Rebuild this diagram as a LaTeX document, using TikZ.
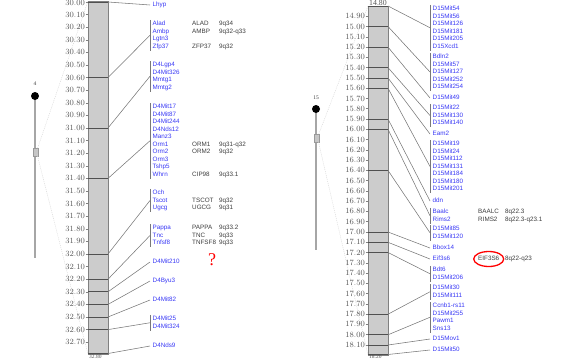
\documentclass[tikz,border=0pt]{standalone}
\usepackage{fontspec}
\setmainfont{Liberation Serif}
\newfontfamily\locifont{Liberation Sans}
\usetikzlibrary{calc}

\definecolor{lociblue}{RGB}{55,55,245}
\definecolor{symgray}{RGB}{60,60,60}
\definecolor{cmgray}{RGB}{85,85,85}
\definecolor{barfill}{RGB}{204,204,204}
\definecolor{barline}{RGB}{128,128,128}
\definecolor{bandline}{RGB}{80,80,80}
\definecolor{linkgray}{RGB}{120,120,120}

\tikzset{
  locus/.style={font=\locifont\fontsize{6.3}{7}\selectfont, text=lociblue, anchor=west,
    inner xsep=0pt, inner ysep=1pt, text height=4.6pt, text depth=1.2pt},
  human/.style={font=\locifont\fontsize{6.3}{7}\selectfont, text=symgray, anchor=west,
    inner xsep=0pt, inner ysep=1pt, text height=4.6pt, text depth=1.2pt},
  cmlabel/.style={font=\fontsize{7.8}{8}\selectfont, text=cmgray, anchor=east, inner sep=0pt},
  cmend/.style={font=\fontsize{5.5}{6}\selectfont, text=cmgray, anchor=base west, inner sep=0pt},
  chrno/.style={font=\fontsize{5.5}{6}\selectfont, text=symgray, inner sep=0pt},
  cmtick/.style={draw=barline, line width=0.5pt},
  chrbar/.style={fill=barfill, draw=barline, line width=0.8pt},
  band/.style={draw=bandline, line width=0.8pt},
  link/.style={draw=linkgray, line width=0.55pt},
  bracket/.style={draw=linkgray, line width=0.7pt},
  ideo/.style={draw=gray!70, line width=1.2pt},
  ideobox/.style={fill=gray!45, draw=gray!80, line width=0.4pt},
  ghost/.style={draw=gray!35, line width=0.4pt, dash pattern=on 1pt off 1pt},
  circled/.style={draw=red, line width=1.3pt},
}

\begin{document}
\begin{tikzpicture}[x=1pt,y=-1pt]
  \useasboundingbox (0,0) rectangle (572,359);

  % overview of chromosome 4
  \node[chrno] (chr4) at (35,84) {4};
  \draw[ideo] (35,96) -- (35,258);
  \fill (35,96) circle (4pt);
  \draw[ideobox] (33,148) rectangle (38,156);
  \coordinate (sel4a) at (37,150);
  \coordinate (sel4b) at (37,154);

  % overview of chromosome 15
  \node[chrno] (chr15) at (316,98) {15};
  \draw[ideo] (316,109) -- (316,250);
  \fill (316,109) circle (4pt);
  \draw[ideobox] (314,134) rectangle (319,142);
  \coordinate (sel15a) at (318,136);
  \coordinate (sel15b) at (318,140);

  % map bars
  \draw[chrbar] (88,1) rectangle (108,354);
  \draw[chrbar] (368,6) rectangle (388,355);
  \draw[ghost] (sel4a) -- (88,1);
  \draw[ghost] (sel4b) -- (88,354);
  \draw[ghost] (sel15a) -- (368,6);
  \draw[ghost] (sel15b) -- (368,355);

  % cM scales
  \foreach \i in {0,...,27} {
    \pgfmathsetmacro\cmval{30+0.1*\i}
    \pgfmathsetmacro\ypos{2+12.6*\i}
    \pgfmathsetmacro\ylab{max(\ypos,3.4)}
    \node[cmlabel] (cmL\i) at (85,\ylab) {\pgfmathprintnumber[fixed,fixed zerofill,precision=2]{\cmval}};
    \draw[cmtick] (85.5,\ypos) -- (88,\ypos);
  }
  \foreach \i in {1,...,33} {
    \pgfmathsetmacro\cmval{14.8+0.1*\i}
    \pgfmathsetmacro\ypos{6+10.27*\i}
    \node[cmlabel] (cmR\i) at (365,\ypos) {\pgfmathprintnumber[fixed,fixed zerofill,precision=2]{\cmval}};
    \draw[cmtick] (365.5,\ypos) -- (368,\ypos);
  }
  \node[cmend] (endL) at (89,358.4) {32.80};
  \node[cmlabel, anchor=south west] (topR) at (369,5.5) {14.80};
  \node[cmend] (endR) at (369,358.4) {18.20};

  % marker positions on the bars
  \foreach \k/\yy in {1/2,2/77.6,3/128,4/178.4,5/254,6/279.2,7/291.8,8/304.4,9/317,10/329.6,11/353.5}
    \draw[band] (88,\yy) -- (108,\yy) coordinate (mL\k);
  \foreach \k/\yy in {1/6,2/26.5,3/47.1,4/67.6,5/77.9,6/88.2,7/119,8/129.3,9/170.4,10/232,11/242.3,12/252.5,13/314.2,14/334.8,15/345,16/354.5}
    \draw[band] (368,\yy) -- (388,\yy) coordinate (mR\k);

  % loci, chromosome 4
  \foreach \nm/\yy/\txt in {lhyp/5/Lhyp,
      alad/24/Alad, ambp/31.5/Ambp, lgtn/39/Lgtn3, zfp/46.5/Zfp37,
      dlgp/65/D4Lgp4, dm326/72.5/D4Mit326, mmtga/80/Mmtg1, mmtgb/87.5/Mmtg2,
      dm17/107/D4Mit17, dm87/114.5/D4Mit87, dm244/122/D4Mit244, dnds12/129.5/D4Nds12,
      manz/137/Manz3, orma/144.5/Orm1, ormb/152/Orm2, ormc/159.5/Orm3, tshp/167/Tshp5,
      whrn/174.5/Whrn,
      och/193/Och, tscot/200.5/Tscot, ugcg/208/Ugcg,
      pappa/228/Pappa, tnc/235.5/Tnc, tnfsf/243/Tnfsf8,
      dm210/262/D4Mit210, dbyu/281/D4Byu3, dm82/300/D4Mit82,
      dm25/319/D4Mit25, dm324/326.5/D4Mit324,
      dnds9/346/D4Nds9}
    \node[locus] (\nm) at (152.5,\yy) {\txt};

  % loci, chromosome 15
  \foreach \nm/\yy/\txt in {r54/9/D15Mit54, r56/16.5/D15Mit56, r126/24/D15Mit126,
      r181/31.5/D15Mit181, r205/39/D15Mit205, rxcd/46.5/D15Xcd1,
      bdln/57/Bdln2, r57/64.5/D15Mit57, r127/72/D15Mit127, r252/79.5/D15Mit252, r254/87/D15Mit254,
      r49/98/D15Mit49,
      r22/108/D15Mit22, r130/115.5/D15Mit130, r140/123/D15Mit140,
      eam/134/Eam2,
      r19/144/D15Mit19, r24/151.5/D15Mit24, r112/159/D15Mit112, r131/166.5/D15Mit131,
      r184/174/D15Mit184, r180/181.5/D15Mit180, r201/189/D15Mit201,
      ddn/201/ddn,
      baalc/212/Baalc, rims/219.5/Rims2,
      r85/229/D15Mit85, r120/236.5/D15Mit120,
      bbox/248/Bbox14,
      eif/259/Eif3s6,
      bdt/270/Bdt6, r206/277.5/D15Mit206,
      r30/288/D15Mit30, r111/295.5/D15Mit111,
      ccnb/306/Ccnb1-rs11, r255/313.5/D15Mit255, pawm/321/Pawm1, sns/328.5/Sns13,
      rmov/339/D15Mov1,
      r50/350/D15Mit50}
    \node[locus] (\nm) at (432.5,\yy) {\txt};

  % human orthologues
  \coordinate (symL) at (192,0);
  \coordinate (bandL) at (219,0);
  \coordinate (symR) at (478,0);
  \coordinate (bandR) at (505,0);
  \foreach \nm/\sym/\cyto in {alad/ALAD/9q34, ambp/AMBP/9q32-q33, zfp/ZFP37/9q32,
      orma/ORM1/9q31-q32, ormb/ORM2/9q32, whrn/CIP98/9q33.1,
      tscot/TSCOT/9q32, ugcg/UGCG/9q31,
      pappa/PAPPA/9q33.2, tnc/TNC/9q33, tnfsf/TNFSF8/9q33} {
    \node[human] (\nm-s) at (\nm.west -| symL) {\sym};
    \node[human] (\nm-b) at (\nm.west -| bandL) {\cyto};
  }
  \foreach \nm/\sym/\cyto in {baalc/BAALC/8q22.3, rims/RIMS2/8q22.3-q23.1, eif/EIF3S6/8q22-q23} {
    \node[human] (\nm-s) at (\nm.west -| symR) {\sym};
    \node[human] (\nm-b) at (\nm.west -| bandR) {\cyto};
  }
  \draw[circled] (eif-s.center) ellipse [x radius=15pt, y radius=7.5pt];

  % brackets and connectors, chromosome 4
  \foreach \a/\b/\g in {alad/zfp/gL2, dlgp/mmtgb/gL3, dm17/whrn/gL4, och/ugcg/gL5,
      pappa/tnfsf/gL6, dm25/dm324/gL10}
    \draw[bracket] ([xshift=-2.5pt]\a.north west) -- ([xshift=-2.5pt]\b.south west) coordinate[midway] (\g);
  \foreach \a/\g in {lhyp/gL1, dm210/gL7, dbyu/gL8, dm82/gL9, dnds9/gL11}
    \coordinate (\g) at ([xshift=-2.5pt]\a.west);
  \foreach \k in {1,...,11}
    \draw[link] (mL\k) -- (gL\k);

  % brackets and connectors, chromosome 15
  \foreach \a/\b/\g in {r54/rxcd/gR1, bdln/r254/gR2, r22/r140/gR4, r19/r201/gR6,
      baalc/rims/gR8, r85/r120/gR9, bdt/r206/gR12, r30/r111/gR13, ccnb/sns/gR14}
    \draw[bracket] ([xshift=-2.5pt]\a.north west) -- ([xshift=-2.5pt]\b.south west) coordinate[midway] (\g);
  \foreach \a/\g in {r49/gR3, eam/gR5, ddn/gR7, bbox/gR10, eif/gR11, rmov/gR15, r50/gR16}
    \coordinate (\g) at ([xshift=-2.5pt]\a.west);
  \foreach \k in {1,...,16}
    \draw[link] (mR\k) -- (gR\k);

  % open question
  \node[text=red, font=\fontsize{18}{18}\selectfont, inner sep=0pt] (query) at (212,260) {?};
\end{tikzpicture}
\end{document}
